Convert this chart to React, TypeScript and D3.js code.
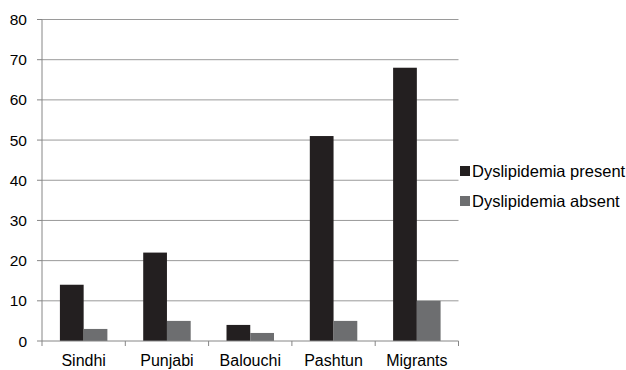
import React from "react";
import * as d3 from "d3";

const categories = ["Sindhi", "Punjabi", "Balouchi", "Pashtun", "Migrants"];
const seriesNames = ["Dyslipidemia present", "Dyslipidemia absent"];
const presentValues = [14, 22, 4, 51, 68];
const absentValues = [3, 5, 2, 5, 10];
const yTicks = [0, 10, 20, 30, 40, 50, 60, 70, 80];

const colors = ["#231f20", "#6d6e70"];

const W = 626;
const H = 370;
const left = 42;
const right = 458.5;
const top = 19.5;
const bottom = 341;
const font = "'Liberation Sans', Arial, sans-serif";

export default function App() {
  const x = d3.scaleBand<string>().domain(categories).range([left, right]).paddingInner(0).paddingOuter(0);
  const y = d3.scaleLinear().domain([0, 80]).range([bottom, top]);
  const bw = x.bandwidth();
  const barW = bw * 0.285;
  const series = [presentValues, absentValues];

  return (
    <svg width={W} height={H} style={{ position: "absolute", left: 0, top: 0, background: "#fff" }} fontFamily={font}>
      {yTicks.map((t) => (
        <g key={t}>
          {t > 0 && <line x1={left} x2={right} y1={y(t)} y2={y(t)} stroke="#9a9a9a" strokeWidth={1} />}
          <line x1={left - 5} x2={left} y1={y(t)} y2={y(t)} stroke="#868686" strokeWidth={1} />
          <text x={27} y={y(t)} dy="0.36em" textAnchor="end" fontSize={15.5} fill="#000">{t}</text>
        </g>
      ))}
      {categories.map((c, i) => (
        <g key={c}>
          {series.map((vals, s) => {
            const cx = (x(c) as number) + bw / 2;
            const bx = cx - barW + s * barW;
            return (
              <rect key={s} x={bx} y={y(vals[i])} width={barW} height={bottom - y(vals[i])} fill={colors[s]} />
            );
          })}
          <text x={(x(c) as number) + bw / 2} y={366} textAnchor="middle" fontSize={16} fill="#000">{c}</text>
        </g>
      ))}
      {[...categories.map((c) => x(c) as number), right].map((tx, i) => (
        <line key={i} x1={tx} x2={tx} y1={bottom} y2={bottom + 5} stroke="#868686" strokeWidth={1} />
      ))}
      <line x1={left} x2={left} y1={top} y2={bottom} stroke="#868686" strokeWidth={1} />
      <line x1={left} x2={right} y1={bottom} y2={bottom} stroke="#868686" strokeWidth={1} />
      {seriesNames.map((n, i) => (
        <g key={n}>
          <rect x={460} y={166 + i * 30} width={10} height={10} fill={colors[i]} />
          <text x={472} y={171 + i * 30} dy="0.36em" fontSize={16.5} fill="#000">{n}</text>
        </g>
      ))}
    </svg>
  );
}
